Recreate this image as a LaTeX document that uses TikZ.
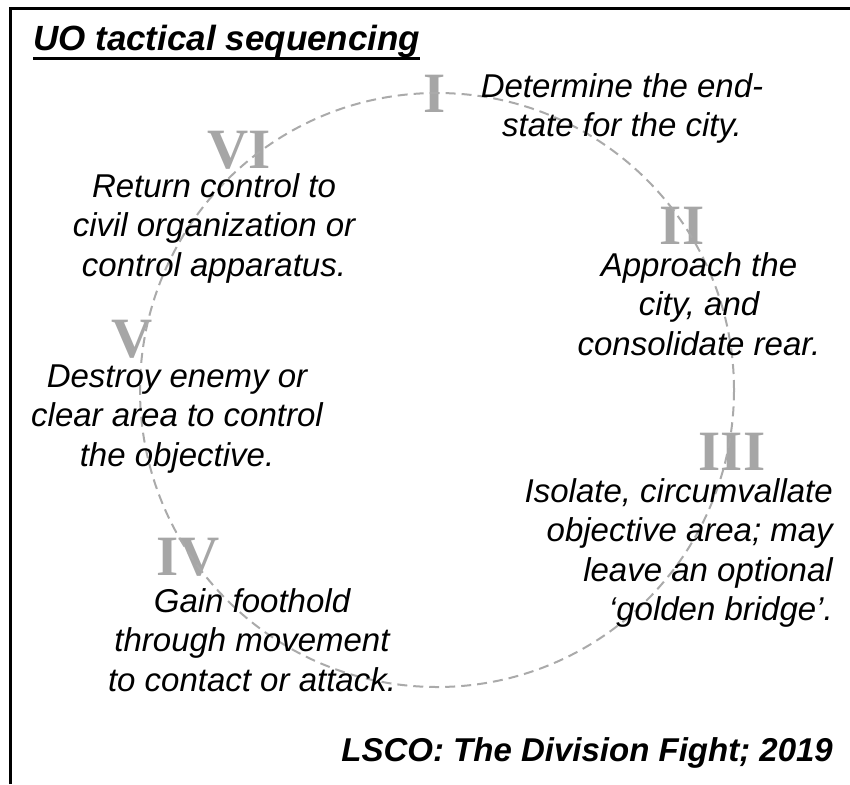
\documentclass[tikz,border=0pt]{standalone}
\usepackage{fontspec}
\setmainfont{Liberation Sans}
\newfontfamily\romanfont{Liberation Serif}
\usetikzlibrary{positioning}

\definecolor{ringgray}{RGB}{170,170,170}
\definecolor{numgray}{RGB}{166,166,166}

\begin{document}
\begin{tikzpicture}[x=1pt,y=-1pt,
    num node/.style={inner sep=0pt,text=numgray,font=\romanfont\bfseries\fontsize{57}{57}\selectfont},
    step node/.style={inner sep=0pt,align=center,anchor=base,font=\itshape\fontsize{33}{39.5}\selectfont},
    ring/.style={draw=ringgray,line width=2pt,dash pattern=on 10pt off 6pt}]

  \useasboundingbox (0,0) rectangle (850,784);
  \draw[line width=3pt] (10,784) -- (10,9) -- (850,9);

  \node[inner sep=0pt,anchor=base west,font=\bfseries\itshape\fontsize{35}{40}\selectfont] (title) at (33,50) {UO tactical sequencing};
  \draw[line width=3pt] ([yshift=-8.5pt]title.base west) -- ([yshift=-8.5pt]title.base east);

  % roman numerals round the ring
  \node[num node] (n1) at (435,94)  {I};
  \node[num node] (n2) at (682,226) {II};
  \node[num node] (n3) at (732,452) {III};
  \node[num node] (n4) at (188,557) {IV};
  \node[num node] (n5) at (132,339) {V};
  \node[num node] (n6) at (239,150) {VI};

  \coordinate (c) at (437,390);
  \draw[ring] (c) circle[radius=297pt];

  % base anchor sits on the last line
  \node[step node] (s1) at (622,136.5) {Determine the end-\\state for the city.};
  \node[step node] (s2) at (699,355)   {Approach the\\city, and\\consolidate rear.};
  \node[step node,align=right,anchor=base east] (s3) at (833,620.5) {Isolate, circumvallate\\objective area; may\\leave an optional\\‘golden bridge’.};
  \node[step node] (s4) at (252,691) {Gain foothold\\through movement\\to contact or attack.};
  \node[step node] (s5) at (177,466) {Destroy enemy or\\clear area to control\\the objective.};
  \node[step node] (s6) at (214,276) {Return control to\\civil organization or\\control apparatus.};

  \node[inner sep=0pt,anchor=base east,font=\bfseries\itshape\fontsize{33}{40}\selectfont] (src) at (833,761) {LSCO: The Division Fight; 2019};
\end{tikzpicture}
\end{document}
